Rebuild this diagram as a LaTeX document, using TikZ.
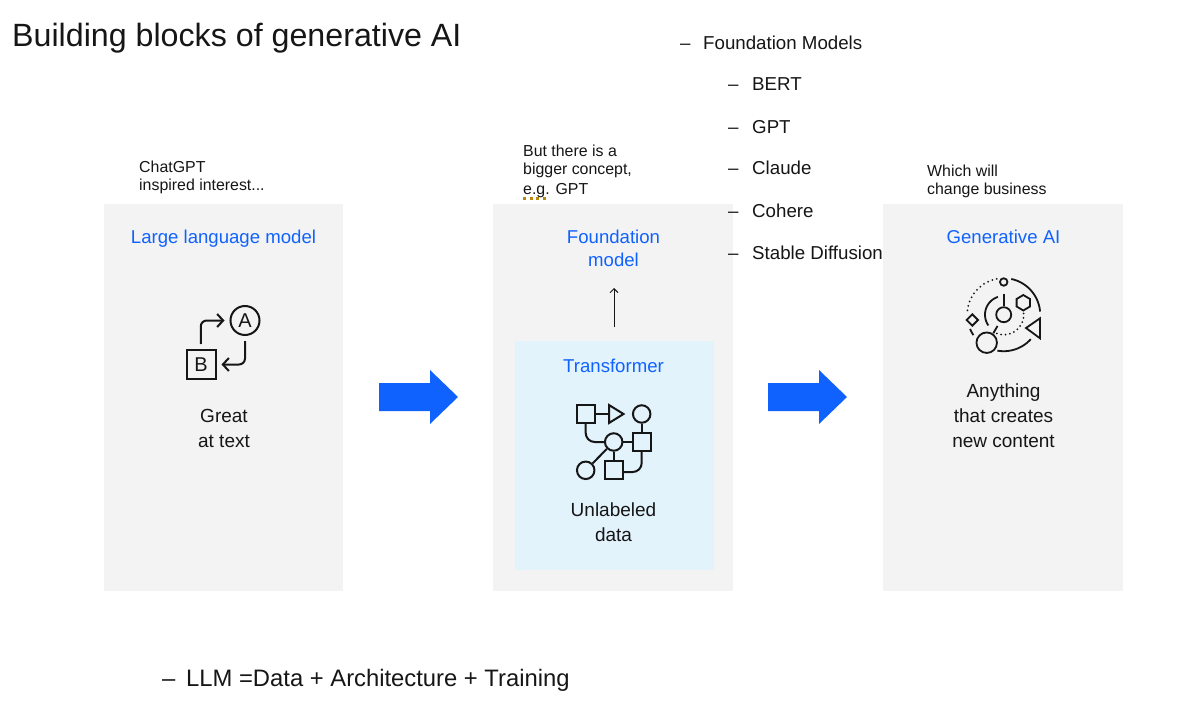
\documentclass[tikz,border=0pt]{standalone}
\usepackage{fontspec}
\setmainfont{Liberation Sans}
\usetikzlibrary{arrows.meta}
\definecolor{panelgray}{HTML}{F3F3F3}
\definecolor{lightblue}{HTML}{E3F3FC}
\definecolor{ibmblue}{HTML}{0F62FE}
\definecolor{spell}{HTML}{B8860B}
\definecolor{ink}{HTML}{161616}
\newcommand{\fs}[1]{\fontsize{#1}{#1}\selectfont}
\tikzset{
  x=1pt,y=-1pt,
  panel/.style={fill=panelgray,draw=none},
  txt/.style={inner sep=0pt,anchor=base west,text=ink},
  ctr/.style={inner sep=0pt,anchor=base,text=ink},
  head/.style={ctr,text=ibmblue,font=\fs{18.6}},
  body/.style={ctr,font=\fs{19}},
  note/.style={txt,font=\fs{15.9}},
  item/.style={txt,font=\fs{18.7}},
  icon/.style={draw=ink,line width=2pt,line join=miter},
  iconnode/.style={draw=ink,line width=2pt,inner sep=0pt},
  iconln/.style={draw=ink,line width=2pt,rounded corners=6pt},
  iconarrow/.style={iconln,-{Straight Barb[length=6pt,width=13pt,line width=2pt]}},
  fine/.style={ink,line width=1.8pt},
  dots/.style={ink,line width=2pt,line cap=round},
  tnode/.style={draw=ink,line width=1.8pt,inner sep=0pt,circle},
  bigarrow/.style={fill=ibmblue,draw=none},
}
\begin{document}
\begin{tikzpicture}
\useasboundingbox (0,0) rectangle (1200,706);
\fill[white] (0,0) rectangle (1200,706);
% panels
\fill[panel] (104,204) rectangle (343,591);
\fill[panel] (493,204) rectangle (733,591);
\fill[panel] (883,204) rectangle (1123,591);
\fill[lightblue] (515,341) rectangle (714,570);
% title
\node[txt,font=\fs{32.2}] (title) at (12,47) {Building blocks of generative AI};
% bullet list
\node[item] (d0) at (680,49.5) {–};
\node[item] (fm) at (703,49.5) {Foundation Models};
\node[item] (d1) at (728,91) {–};
\node[item] (i1) at (752,91) {BERT};
\node[item] (d2) at (728,133.5) {–};
\node[item] (i2) at (752,133.5) {GPT};
\node[item] (d3) at (728,175) {–};
\node[item] (i3) at (752,175) {Claude};
\node[item] (d4) at (728,217.5) {–};
\node[item] (i4) at (752,217.5) {Cohere};
\node[item] (d5) at (728,259) {–};
\node[item] (i5) at (752,259) {Stable Diffusion};
% notes
\node[note] (n1a) at (139,173) {ChatGPT};
\node[note] (n1b) at (139,190) {inspired interest...};
\node[note] (n2a) at (523,157) {But there is a};
\node[note] (n2b) at (523,175) {bigger concept,};
\node[note] (n2c) at (523,194) {e.g. GPT};
\draw[spell,line width=3pt,dash pattern=on 3pt off 3.5pt] (523,198.5) -- (548,198.5);
\node[note] (n3a) at (927,177) {Which will};
\node[note] (n3b) at (927,194) {change business};
% panel headings
\node[head] (llm) at (223.5,243) {Large language model};
\node[head] (found1) at (613.5,243) {Foundation};
\node[head] (found2) at (613.5,266) {model};
\node[head] (gen) at (1003.5,243) {Generative AI};
\node[head] (trans) at (613.5,372) {Transformer};
% captions
\node[body] (g1) at (224,422) {Great};
\node[body] (g2) at (224,447) {at text};
\node[body] (u1) at (613.5,516) {Unlabeled};
\node[body] (u2) at (613.5,541) {data};
\node[body] (a1) at (1003.5,397) {Anything};
\node[body] (a2) at (1003.5,422) {that creates};
\node[body] (a3) at (1003.5,447) {new content};
% bottom line
\node[txt,font=\fs{23.8}] (d6) at (162,686) {–};
\node[txt,font=\fs{23.8}] (llmeq) at (186,686) {LLM =Data + Architecture + Training};
% thin arrow
\coordinate (upA) at (614,327);
\coordinate (upB) at (614,288);
\draw[ink,line width=1pt,-{Straight Barb[length=4pt,width=8pt]}] (upA) -- (upB);
% big arrows
\fill[bigarrow] (379,383) -- (430,383) -- (430,370) -- (458,397) -- (430,424) -- (430,411) -- (379,411) -- cycle;
\fill[bigarrow] (768,383) -- (819,383) -- (819,370) -- (847,397) -- (819,424) -- (819,411) -- (768,411) -- cycle;
% icon 1
\node[iconnode,circle,minimum size=29pt,font=\fs{20},text=ink] (iA) at (245,320.5) {A};
\node[iconnode,rectangle,minimum size=29pt,font=\fs{20},text=ink] (iB) at (201,364.5) {B};
\draw[iconarrow,shorten >=5pt,shorten <=5pt] (iB.north) -- (200.7,320.5) -- (iA.west);
\draw[iconarrow,shorten >=5pt,shorten <=5pt] (iA.south) -- (245,364.5) -- (iB.east);
% icon 2
\node[iconnode,rectangle,minimum size=18pt] (s1) at (585.7,414) {};
\node[iconnode,circle,minimum size=17.5pt] (c1) at (641.7,414) {};
\node[iconnode,rectangle,minimum size=18pt] (s2) at (641.7,442) {};
\node[iconnode,circle,minimum size=17.5pt] (c2) at (613.7,442) {};
\node[iconnode,circle,minimum size=17.5pt] (c3) at (585.7,470.3) {};
\node[iconnode,rectangle,minimum size=18pt] (s3) at (613.7,470) {};
\draw[icon] (609,405) -- (609,423) -- (623.5,414) -- cycle;
\draw[icon] (s1.east) -- (609,414);
\draw[icon] (c1.south) -- (s2.north);
\draw[icon] (c2.east) -- (s2.west);
\draw[icon] (c2.south) -- (s3.north);
\draw[icon] (c3.north east) -- (c2.south west);
\draw[iconln,rounded corners=9pt] (s1.south) -- (585.7,442) -- (c2.west);
\draw[iconln,rounded corners=9pt] (s2.south) -- (641.7,472) -- (s3.east |- 0,472);
% icon 3
\def\cx{1003.7}\def\cy{314.7}
\draw[fine,variable=\t,domain=78:5,samples=40,smooth] plot ({\cx+36.5*cos(\t)},{\cy-36.5*sin(\t)});
\draw[fine,variable=\t,domain=-100:-42,samples=40,smooth] plot ({\cx+36.5*cos(\t)},{\cy-36.5*sin(\t)});
\draw[fine,variable=\t,domain=203:214,samples=10,smooth] plot ({\cx+36.5*cos(\t)},{\cy-36.5*sin(\t)});
\draw[dots,dash pattern=on 0pt off 4.6pt,variable=\t,domain=101:178,samples=40,smooth] plot ({\cx+36.5*cos(\t)},{\cy-36.5*sin(\t)});
\draw[fine,variable=\t,domain=108:215,samples=30,smooth] plot ({\cx+18.7*cos(\t)},{\cy-18.7*sin(\t)});
\draw[dots,dash pattern=on 0pt off 4.4pt,variable=\t,domain=-110:9,samples=30,smooth] plot ({\cx+20*cos(\t)},{\cy-20*sin(\t)});
\node[tnode,minimum size=7.5pt] (t1) at (1003.7,282) {};
\node[tnode,minimum size=15pt] (t2) at (1003.7,314.7) {};
\node[tnode,minimum size=20.5pt] (t3) at (986.7,342.7) {};
\draw[fine] (t1.south) ++(0,7) -- (t2.north);
\draw[fine] (993.3,333.3) -- (997.5,326);
\draw[fine,fill=panelgray] (1023.3,295) -- (1030,299) -- (1030,306.5) -- (1023.3,310.5) -- (1016.6,306.5) -- (1016.6,299) -- cycle;
\draw[fine,fill=panelgray] (972.3,314.3) -- (978,320) -- (972.3,325.7) -- (966.6,320) -- cycle;
\draw[fine,fill=panelgray] (1040,318.3) -- (1040,338.3) -- (1026,328) -- cycle;
\end{tikzpicture}
\end{document}
